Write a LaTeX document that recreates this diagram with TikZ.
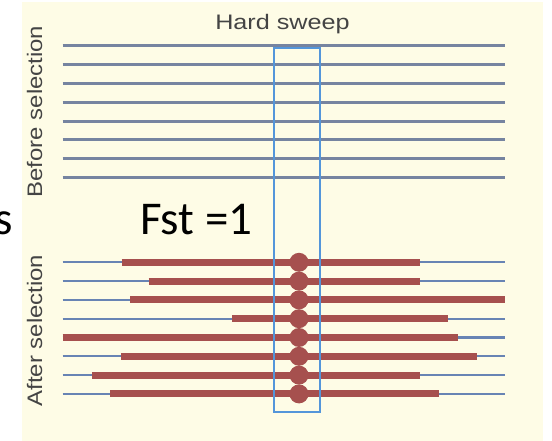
\documentclass[tikz,border=0pt]{standalone}
\usepackage{fontspec}
\setmainfont{Liberation Sans}
\newfontfamily\calibri{Carlito}
\definecolor{cream}{RGB}{254,252,230}
\definecolor{hapgray}{RGB}{118,132,160}
\definecolor{hapblue}{RGB}{104,132,180}
\definecolor{sweepred}{RGB}{166,80,78}
\definecolor{boxblue}{RGB}{84,150,218}
\definecolor{labelgray}{RGB}{68,68,68}
\tikzset{
  topline/.style={hapgray, line width=3pt},
  thinline/.style={hapblue, line width=2.2pt},
  redbar/.style={sweepred, line width=7pt, line cap=butt},
  dot/.style={fill=sweepred},
  windowbox/.style={draw=boxblue, line width=2pt},
  labeltext/.style={text=labelgray, inner sep=0pt, font=\fontsize{21}{24}\selectfont},
  bigtext/.style={text=black, inner sep=0pt, font=\calibri\fontsize{47}{52}\selectfont}
}
\begin{document}
\begin{tikzpicture}[x=1pt,y=-1pt]
\useasboundingbox (0,0) rectangle (552,441);
\clip (0,0) rectangle (552,441);
\fill[cream] (22,2) rectangle (543,441);
% before selection
\foreach \i in {0,...,7}{
  \draw[topline] (62.5,46+\i*18.8) -- (505,46+\i*18.8);
}
% after selection
\foreach \y/\a/\b in {262.3/121.5/420, 281.1/148.6/420, 299.9/130/505, 318.7/232/448,
                      337.5/62.5/458, 356.3/121/477, 375.1/92/420, 393.9/110/439}{
  \draw[thinline] (62.5,\y) -- (505,\y);
  \draw[redbar] (\a,\y) -- (\b,\y);
  \fill[dot] (299,\y) circle (9.5pt);
}
\draw[windowbox] (274,48.3) rectangle (320,411.5);
% labels
\node[labeltext, anchor=base] (title) at (282.5,30) {\scalebox{1.2}[1]{Hard sweep}};
\node[labeltext, rotate=90, anchor=base] (before) at (42,111.5) {\scalebox{1.14}[1]{Before selection}};
\node[labeltext, rotate=90, anchor=base] (after) at (42,330.5) {\scalebox{1.14}[1]{After selection}};
\node[bigtext, anchor=base west] (fst) at (140,234) {Fst =1};
\node[bigtext, anchor=base east] (cut) at (13,235) {s};
\end{tikzpicture}
\end{document}
